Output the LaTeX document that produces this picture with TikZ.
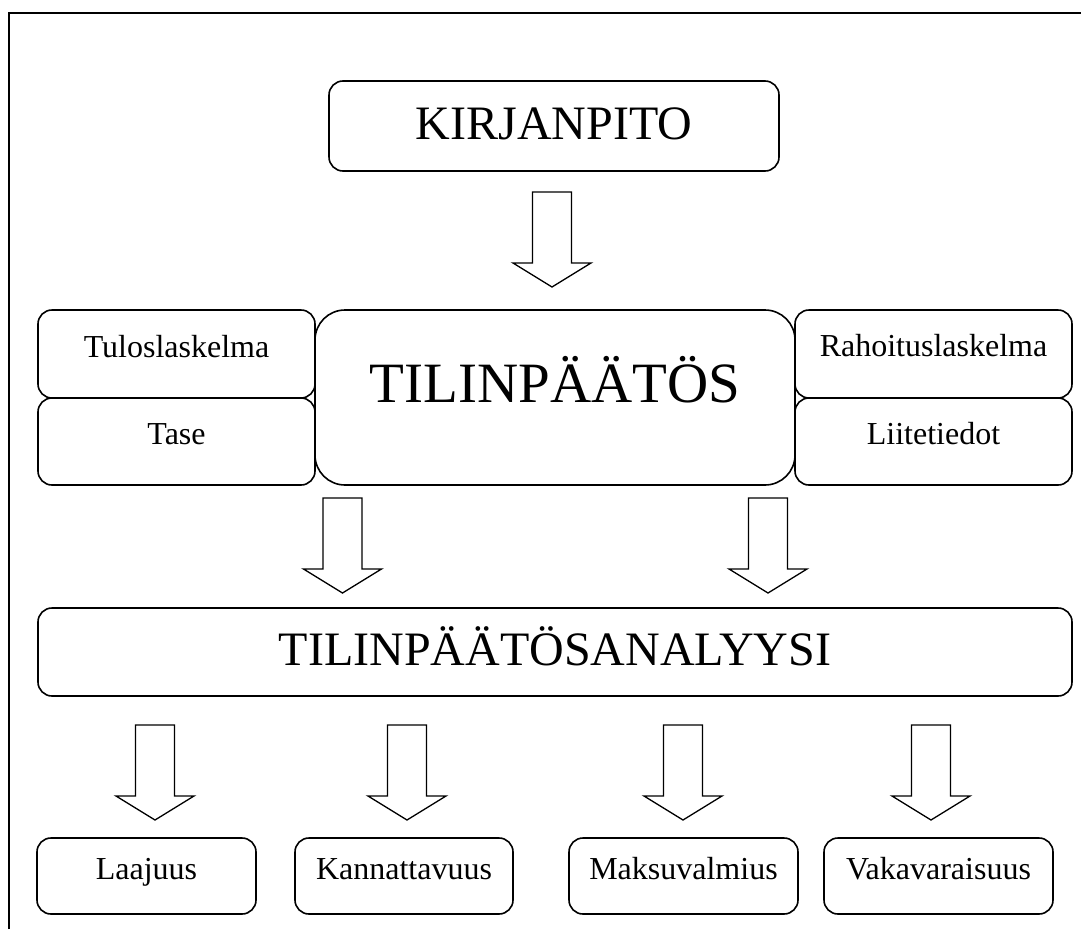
\documentclass[tikz,border=0pt]{standalone}
\usepackage{fontspec}
\setmainfont{Liberation Serif}
\begin{document}
\begin{tikzpicture}[x=1pt,y=-1pt,
  box/.style={draw,line width=1.6pt,rounded corners=14pt,inner sep=0pt,align=center},
  small/.style={font=\fontsize{32}{36}\selectfont},
  big/.style={font=\fontsize{48}{54}\selectfont},
  arrowline/.style={line width=1.3pt,line join=miter},
  downarrow/.pic={\draw[arrowline] (-19.5,0) -- (-19.5,71) -- (-39,71) -- (0,95)
    -- (39,71) -- (19.5,71) -- (19.5,0) -- cycle;}]
 \useasboundingbox (0,0) rectangle (1081,929);
 \draw[line width=2pt] (9,929) -- (9,13) -- (1081,13);
 \node[box,big,minimum width=450pt,text height=58pt,text depth=32pt] (kirjanpito) at (554,126) {KIRJANPITO};
 \node[box,small,minimum width=277pt,text height=47pt,text depth=41pt] (tulos) at (176.5,354) {Tuloslaskelma};
 \node[box,small,minimum width=277pt,text height=46pt,text depth=41pt] (tase) at (176.5,441.5) {Tase};
 \node[box,small,minimum width=277pt,text height=46pt,text depth=42pt] (rahoitus) at (933.5,354) {Rahoituslaskelma};
 \node[box,small,minimum width=277pt,text height=46pt,text depth=41pt] (liite) at (933.5,441.5) {Liitetiedot};
 \node[box,font=\fontsize{57}{64}\selectfont,rounded corners=30pt,minimum width=480pt,
   text height=92pt,text depth=83pt] (tilinpaatos) at (555,397.5) {TILINPÄÄTÖS};
 \node[box,big,minimum width=1034pt,text height=57pt,text depth=31pt] (analyysi) at (555,652) {TILINPÄÄTÖSANALYYSI};
 \node[box,small,minimum width=219pt,text height=41pt,text depth=35pt] (laajuus) at (146.5,876) {Laajuus};
 \node[box,small,minimum width=218pt,text height=41pt,text depth=35pt] (kannattavuus) at (404,876) {Kannattavuus};
 \node[box,small,minimum width=229pt,text height=41pt,text depth=35pt] (maksuvalmius) at (683.5,876) {Maksuvalmius};
 \node[box,small,minimum width=229pt,text height=41pt,text depth=35pt] (vakavaraisuus) at (938.5,876) {Vakavaraisuus};
 \pic at (552,192) {downarrow};
 \pic at (342.5,498) {downarrow};
 \pic at (768,498) {downarrow};
 \foreach \x in {155,407,683,931}
   \pic at (\x,725) {downarrow};
\end{tikzpicture}
\end{document}
